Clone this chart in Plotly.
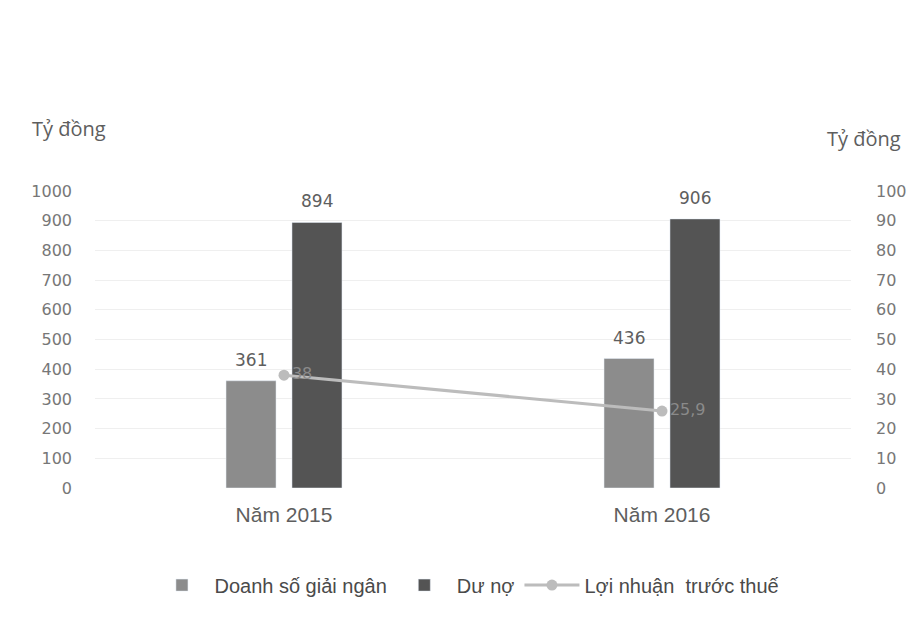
import plotly.graph_objects as go

categories = ["Năm 2015", "Năm 2016"]
doanh_so = [361, 436]
du_no = [894, 906]
loi_nhuan = [38, 25.9]
loi_nhuan_labels = ["38", "25,9"]
left_ticks = list(range(0, 1001, 100))
right_ticks = list(range(0, 101, 10))

text_color = "#5e5e5e"
tick_color = "#777777"
num_font = "DejaVu Sans"
txt_font = "Liberation Sans, Arial, sans-serif"

fig = go.Figure()

fig.add_trace(
    go.Bar(
        x=categories,
        y=doanh_so,
        name="Doanh số giải ngân",
        marker=dict(color="#8c8c8c"),
    )
)
fig.add_trace(
    go.Bar(
        x=categories,
        y=du_no,
        name="Dư nợ",
        marker=dict(color="#545454"),
    )
)
fig.add_trace(
    go.Scatter(
        x=categories,
        y=loi_nhuan,
        name="Lợi nhuận  trước thuế",
        mode="lines+markers+text",
        line=dict(color="#bcbcbc", width=3),
        marker=dict(color="#bcbcbc", size=11),
        text=loi_nhuan_labels,
        textposition="middle right",
        textfont=dict(family=num_font, size=16, color="#8a8a8a"),
        yaxis="y2",
        cliponaxis=False,
    )
)

# value labels above the bars
annotations = []
for cat, v in zip(categories, doanh_so):
    annotations.append(dict(x=cat, y=v, xref="x", yref="y", text=str(v),
                            xshift=-33, yshift=21, showarrow=False,
                            font=dict(family=num_font, size=17, color=text_color)))
for cat, v in zip(categories, du_no):
    annotations.append(dict(x=cat, y=v, xref="x", yref="y", text=str(v),
                            xshift=33, yshift=21, showarrow=False,
                            font=dict(family=num_font, size=17, color=text_color)))

# axis unit titles
annotations += [
    dict(text="Tỷ đồng", xref="paper", yref="paper", x=-0.086, y=1.212,
         xanchor="left", yanchor="middle", showarrow=False,
         font=dict(family="Open Sans", size=20, color=text_color)),
    dict(text="Tỷ đồng", xref="paper", yref="paper", x=1.069, y=1.178,
         xanchor="right", yanchor="middle", showarrow=False,
         font=dict(family="Open Sans", size=20, color=text_color)),
]

fig.update_layout(
    width=915,
    height=621,
    paper_bgcolor="white",
    plot_bgcolor="white",
    font=dict(family=txt_font, color=text_color, size=15),
    barmode="group",
    bargap=0.651,
    bargroupgap=0.242,
    margin=dict(l=87, r=72, t=183, b=141, autoexpand=False),
    showlegend=True,
    legend=dict(
        orientation="h",
        x=0.492,
        xanchor="center",
        y=-0.327,
        yanchor="middle",
        font=dict(family=txt_font, size=20, color="#4a4a4a"),
        itemwidth=55,
        traceorder="normal",
    ),
    xaxis=dict(
        showgrid=False,
        showline=False,
        ticks="",
        ticklabelstandoff=12,
        tickfont=dict(family=txt_font, size=21, color=text_color),
    ),
    yaxis=dict(
        range=[0, 1000],
        tickvals=left_ticks,
        showgrid=True,
        gridcolor="#efefef",
        zeroline=False,
        ticks="",
        ticklabelstandoff=22,
        tickfont=dict(family=num_font, size=16, color=tick_color),
    ),
    yaxis2=dict(
        range=[0, 100],
        tickvals=right_ticks,
        overlaying="y",
        side="right",
        showgrid=False,
        zeroline=False,
        ticks="",
        ticklabelstandoff=24,
        tickfont=dict(family=num_font, size=16, color=tick_color),
    ),
    annotations=annotations,
)

fig.write_html("out.html")
